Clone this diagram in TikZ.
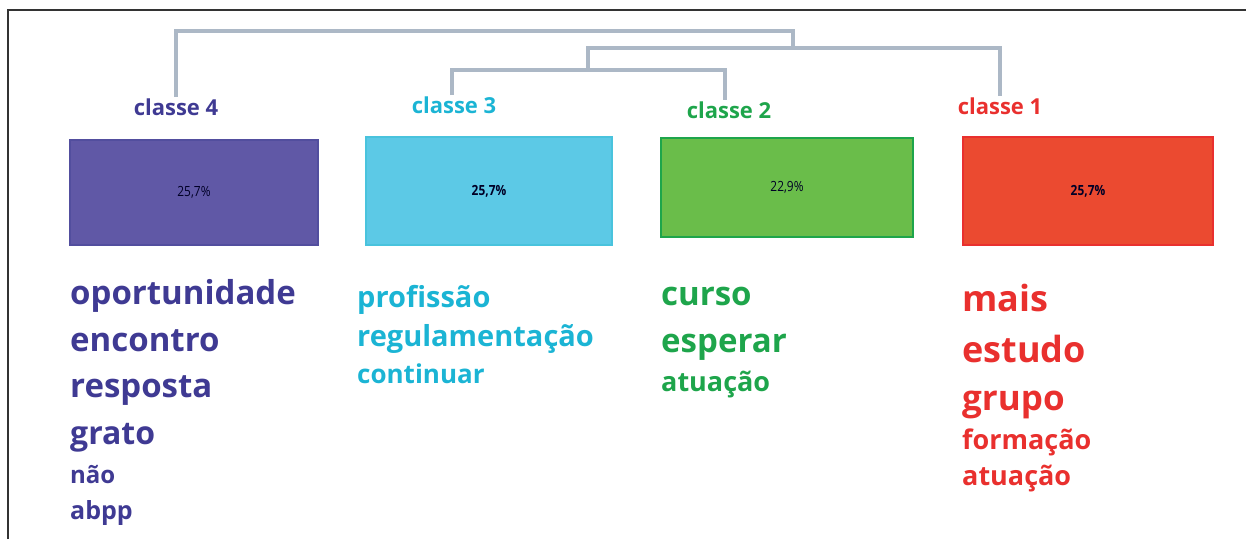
\documentclass[tikz,border=0pt]{standalone}
\usepackage{fontspec}
\setmainfont{Open Sans}
\newfontfamily\pctfont{Open Sans}[FakeStretch=0.85]
\usepackage{tikz}
\usetikzlibrary{positioning,calc}
\usepackage{xcolor}
\definecolor{classfour}{RGB}{63,58,147}
\definecolor{classthree}{RGB}{27,180,212}
\definecolor{classtwo}{RGB}{30,165,75}
\definecolor{classone}{RGB}{233,48,46}
\definecolor{boxfour}{RGB}{96,88,166}
\definecolor{boxthree}{RGB}{92,201,230}
\definecolor{boxtwo}{RGB}{106,189,74}
\definecolor{boxone}{RGB}{235,74,48}
\definecolor{dendrogray}{RGB}{172,184,198}

\newcommand{\fsz}[1]{\fontsize{#1}{#1}\selectfont}

\begin{document}
\begin{tikzpicture}[x=1pt,y=-1pt,
    classbox/.style={rectangle,line width=1.2pt,text=black!85!blue,font=\pctfont\fsz{14}},
    classlabel/.style={anchor=base,inner sep=1pt,font=\bfseries\fsz{22}},
    wordnode/.style={anchor=base west,inner sep=0pt,font=\bfseries},
    dendro/.style={dendrogray,line width=4pt}]
        \useasboundingbox (0,0) rectangle (1246,539);
        \draw[black!80,line width=1.5pt] (8,539) -- (8,10) -- (1246,10);

        % class boxes
        \node[classbox,fill=boxfour,draw=classfour!90,minimum width=248pt,minimum height=105pt] (box4) at (194,192.5) {25,7\%};
        \node[classbox,fill=boxthree,draw=classthree!80,minimum width=246pt,minimum height=108pt,font=\pctfont\fsz{14}\bfseries] (box3) at (489,191) {25,7\%};
        \node[classbox,fill=boxtwo,draw=classtwo,minimum width=252pt,minimum height=99pt] (box2) at (787,187.5) {22,9\%};
        \node[classbox,fill=boxone,draw=classone,minimum width=250pt,minimum height=108pt,font=\pctfont\fsz{14}\bfseries] (box1) at (1088,191) {25,7\%};

        % class labels
        \node[classlabel,text=classfour] (c4) at (176,115) {classe 4};
        \node[classlabel,text=classthree] (c3) at (454,113) {classe 3};
        \node[classlabel,text=classtwo] (c2) at (729,118) {classe 2};
        \node[classlabel,text=classone] (c1) at (1000,114) {classe 1};

        % dendrogram
        \coordinate (b32) at (588,70);
        \coordinate (b321) at (793,48);
        \coordinate (root) at (176,31);
        \draw[dendro] ([xshift=-2pt]c3.north) |- (b32) -| ([xshift=-4pt]c2.north);
        \draw[dendro] (b32) |- (b321) -| (c1.north);
        \draw[dendro] (c4.north) |- (root) -| (b321);

        % words
        \foreach \w/\s/\y [count=\i] in {oportunidade/33/304,encontro/33/351,resposta/33/397,grato/32/444,não/24/483,abpp/25/519}
            \node[wordnode,text=classfour,font=\bfseries\fsz{\s}] (w4-\i) at (70,\y) {\w};
        \foreach \w/\s/\y [count=\i] in {profissão/29/307,regulamentação/29/346,continuar/26/383}
            \node[wordnode,text=classthree,font=\bfseries\fsz{\s}] (w3-\i) at (357,\y) {\w};
        \foreach \w/\s/\y [count=\i] in {curso/33/305,esperar/33/352,atuação/27/391}
            \node[wordnode,text=classtwo,font=\bfseries\fsz{\s}] (w2-\i) at (661,\y) {\w};
        \foreach \w/\s/\y [count=\i] in {mais/36/311,estudo/36/362,grupo/35/410,formação/27/449,atuação/27/485}
            \node[wordnode,text=classone,font=\bfseries\fsz{\s}] (w1-\i) at (962,\y) {\w};
    \end{tikzpicture}
\end{document}
